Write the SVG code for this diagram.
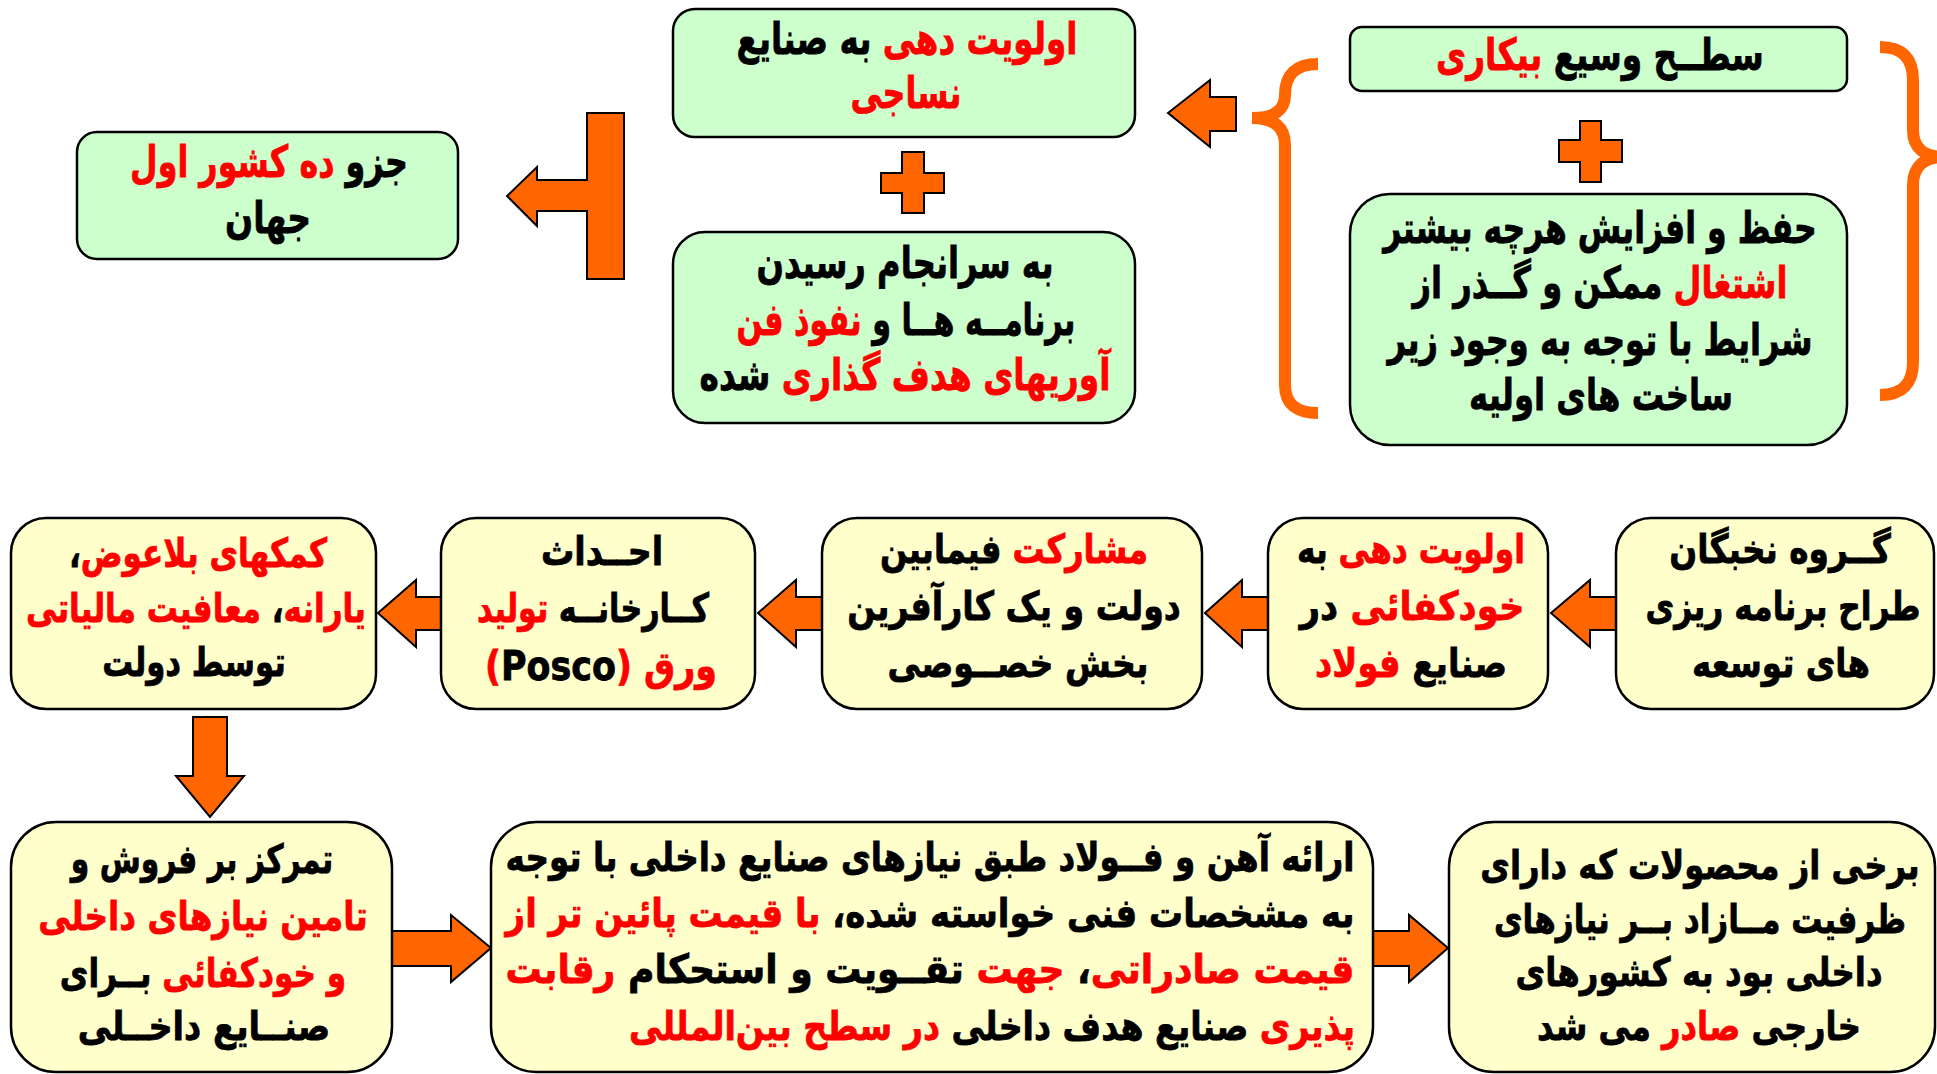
<svg xmlns="http://www.w3.org/2000/svg" width="1937" height="1074" viewBox="0 0 1937 1074">
<style>
.g{fill:#CCFFCC;stroke:#000;stroke-width:2.5}
.y{fill:#FFFFCC;stroke:#000;stroke-width:2.5}
.o{fill:#FF6600;stroke:#000;stroke-width:2}
.br{fill:none;stroke:#FF6600;stroke-width:12;stroke-linecap:butt}
.t{font-family:"DejaVu Sans",sans-serif;font-weight:bold;font-size:40px;fill:#000;stroke:#000;stroke-width:0.8;direction:rtl;text-anchor:middle}
.L{font-size:44px}
.r{fill:#FF0000;stroke:#FF0000}
</style>
<rect width="1937" height="1074" fill="#fff"/>
<g id="connectors">
<polygon class="o" points="624,113 624,279 587,279 587,211 537,211 537,226 507,196 537,167 537,180 587,180 587,113"/>
<polygon class="o" points="1168,113 1210,80 1210,97 1236,97 1236,131 1210,131 1210,147"/>
<path class="br" d="M1318,64 Q1285,64 1285,95 Q1285,118 1252,118 Q1285,118 1285,145 L1285,385 Q1285,413 1318,413"/>
<path class="br" d="M1880,47 Q1913,47 1913,80 L1913,130 Q1913,157 1945,157 Q1913,157 1913,185 L1913,362 Q1913,395 1880,395"/>
<polygon class="o" points="902,152 924,152 924,173 944,173 944,193 924,193 924,213 902,213 902,193 881,193 881,173 902,173"/>
<polygon class="o" points="1580,121 1601,121 1601,140 1622,140 1622,162 1601,162 1601,182 1580,182 1580,162 1559,162 1559,140 1580,140"/>
<polygon class="o" points="378,613 416,580 416,597 441,597 441,630 416,630 416,647"/>
<polygon class="o" points="758,613 796,580 796,597 822,597 822,630 796,630 796,647"/>
<polygon class="o" points="1205,613 1242,580 1242,597 1268,597 1268,630 1242,630 1242,647"/>
<polygon class="o" points="1551,613 1590,580 1590,597 1616,597 1616,630 1590,630 1590,647"/>
<polygon class="o" points="193,717 227,717 227,776 244,776 210,817 176,776 193,776"/>
<polygon class="o" points="392,931 451,931 451,915 491,948 451,982 451,966 392,966"/>
<polygon class="o" points="1373,931 1409,931 1409,915 1448,948 1409,982 1409,966 1373,966"/>
</g>
<g id="n1">
<rect class="g" x="77" y="132" width="381" height="127" rx="20"/>
<text class="t L" transform="translate(269,177) scale(0.735,1)" textLength="378" lengthAdjust="spacingAndGlyphs">جزو <tspan class="r">ده کشور اول</tspan></text>
<text class="t L" transform="translate(268,233) scale(0.735,1)" textLength="117" lengthAdjust="spacingAndGlyphs">جهان</text>
</g>
<g id="n2">
<rect class="g" x="673" y="9" width="462" height="128" rx="22"/>
<text class="t L" transform="translate(907,54) scale(0.735,1)" textLength="464" lengthAdjust="spacingAndGlyphs"><tspan class="r">اولویت دهی</tspan> به صنایع</text>
<text class="t L r" transform="translate(906,108) scale(0.735,1)" textLength="151" lengthAdjust="spacingAndGlyphs">نساجی</text>
</g>
<g id="n3">
<rect class="g" x="673" y="232" width="462" height="191" rx="32"/>
<text class="t L" transform="translate(905,278) scale(0.735,1)" textLength="404" lengthAdjust="spacingAndGlyphs">به سرانجام رسیدن</text>
<text class="t L" transform="translate(906,335) scale(0.735,1)" textLength="461" lengthAdjust="spacingAndGlyphs">برنامــه هــا و <tspan class="r">نفوذ فن</tspan></text>
<text class="t L" transform="translate(905,390) scale(0.735,1)" textLength="559" lengthAdjust="spacingAndGlyphs"><tspan class="r">آوریهای هدف گذاری</tspan> شده</text>
</g>
<g id="n4">
<rect class="g" x="1350" y="27" width="497" height="64" rx="12"/>
<text class="t L" transform="translate(1600,70) scale(0.735,1)" textLength="446" lengthAdjust="spacingAndGlyphs">سطــح وسیع <tspan class="r">بیکاری</tspan></text>
</g>
<g id="n5">
<rect class="g" x="1350" y="194" width="497" height="251" rx="40"/>
<text class="t L" transform="translate(1600,243) scale(0.735,1)" textLength="590" lengthAdjust="spacingAndGlyphs">حفظ و افزایش هرچه بیشتر</text>
<text class="t L" transform="translate(1600,298) scale(0.735,1)" textLength="510" lengthAdjust="spacingAndGlyphs"><tspan class="r">اشتغال</tspan> ممکن و گــذر از</text>
<text class="t L" transform="translate(1600,355) scale(0.735,1)" textLength="578" lengthAdjust="spacingAndGlyphs">شرایط با توجه به وجود زیر</text>
<text class="t L" transform="translate(1601,410) scale(0.735,1)" textLength="359" lengthAdjust="spacingAndGlyphs">ساخت های اولیه</text>
</g>
<g id="nA">
<rect class="y" x="11" y="518" width="365" height="191" rx="35"/>
<text class="t" transform="translate(198,567) scale(0.78,1)" textLength="331" lengthAdjust="spacingAndGlyphs"><tspan class="r">کمکهای بلاعوض</tspan>،</text>
<text class="t" transform="translate(196,622) scale(0.66,1)" textLength="515" lengthAdjust="spacingAndGlyphs"><tspan class="r">یارانه</tspan>، <tspan class="r">معافیت مالیاتی</tspan></text>
<text class="t" transform="translate(194,676) scale(0.82,1)" textLength="224" lengthAdjust="spacingAndGlyphs">توسط دولت</text>
</g>
<g id="nB">
<rect class="y" x="441" y="518" width="314" height="191" rx="35"/>
<text class="t" transform="translate(602,565) scale(0.82,1)" textLength="149" lengthAdjust="spacingAndGlyphs">احــداث</text>
<text class="t" transform="translate(593,622) scale(0.82,1)" textLength="283" lengthAdjust="spacingAndGlyphs">کــارخانــه <tspan class="r">تولید</tspan></text>
<text class="t" transform="translate(601,680) scale(0.82,1)" textLength="283" lengthAdjust="spacingAndGlyphs"><tspan class="r">ورق (</tspan>Posco<tspan class="r">)</tspan></text>
</g>
<g id="nC">
<rect class="y" x="822" y="518" width="380" height="191" rx="35"/>
<text class="t" transform="translate(1014,563) scale(0.82,1)" textLength="327" lengthAdjust="spacingAndGlyphs"><tspan class="r">مشارکت</tspan> فیمابین</text>
<text class="t" transform="translate(1014,620) scale(0.82,1)" textLength="407" lengthAdjust="spacingAndGlyphs">دولت و یک کارآفرین</text>
<text class="t" transform="translate(1018,677) scale(0.82,1)" textLength="318" lengthAdjust="spacingAndGlyphs">بخش خصــوصی</text>
</g>
<g id="nD">
<rect class="y" x="1268" y="518" width="280" height="191" rx="35"/>
<text class="t" transform="translate(1411,563) scale(0.82,1)" textLength="278" lengthAdjust="spacingAndGlyphs"><tspan class="r">اولویت دهی</tspan> به</text>
<text class="t" transform="translate(1412,620) scale(0.82,1)" textLength="274" lengthAdjust="spacingAndGlyphs"><tspan class="r">خودکفائی</tspan> در</text>
<text class="t" transform="translate(1411,677) scale(0.82,1)" textLength="234" lengthAdjust="spacingAndGlyphs">صنایع <tspan class="r">فولاد</tspan></text>
</g>
<g id="nE">
<rect class="y" x="1616" y="518" width="318" height="191" rx="35"/>
<text class="t" transform="translate(1780,563) scale(0.82,1)" textLength="270" lengthAdjust="spacingAndGlyphs">گــروه نخبگان</text>
<text class="t" transform="translate(1783,620) scale(0.76,1)" textLength="362" lengthAdjust="spacingAndGlyphs">طراح برنامه ریزی</text>
<text class="t" transform="translate(1781,677) scale(0.82,1)" textLength="217" lengthAdjust="spacingAndGlyphs">های توسعه</text>
</g>
<g id="nF">
<rect class="y" x="11" y="822" width="381" height="250" rx="45"/>
<text class="t" transform="translate(202,873) scale(0.83,1)" textLength="316" lengthAdjust="spacingAndGlyphs">تمرکز بر فروش و</text>
<text class="t r" transform="translate(203,930) scale(0.8,1)" textLength="412" lengthAdjust="spacingAndGlyphs">تامین نیازهای داخلی</text>
<text class="t" transform="translate(203,987) scale(0.8,1)" textLength="358" lengthAdjust="spacingAndGlyphs"><tspan class="r">و خودکفائی</tspan> بــرای</text>
<text class="t" transform="translate(204,1040) scale(0.83,1)" textLength="304" lengthAdjust="spacingAndGlyphs">صنــایع داخــلی</text>
</g>
<g id="nG">
<rect class="y" x="491" y="822" width="882" height="250" rx="45"/>
<text class="t" transform="translate(930,871) scale(0.8,1)" textLength="1061" lengthAdjust="spacingAndGlyphs">ارائه آهن و فــولاد طبق نیازهای صنایع داخلی با توجه</text>
<text class="t" transform="translate(930,927) scale(0.8,1)" textLength="1061" lengthAdjust="spacingAndGlyphs">به مشخصات فنی خواسته شده، <tspan class="r">با قیمت پائین تر از</tspan></text>
<text class="t" transform="translate(930,983) scale(0.8,1)" textLength="1061" lengthAdjust="spacingAndGlyphs"><tspan class="r">قیمت صادراتی</tspan>، <tspan class="r">جهت</tspan> تقــویت و استحکام <tspan class="r">رقابت</tspan></text>
<text class="t" transform="translate(992,1040) scale(0.78,1)" textLength="931" lengthAdjust="spacingAndGlyphs"><tspan class="r">پذیری</tspan> صنایع هدف داخلی <tspan class="r">در سطح بین‌المللی</tspan></text>
</g>
<g id="nH">
<rect class="y" x="1449" y="822" width="486" height="250" rx="45"/>
<text class="t" transform="translate(1700,879) scale(0.76,1)" textLength="578" lengthAdjust="spacingAndGlyphs">برخی از محصولات که دارای</text>
<text class="t" transform="translate(1700,933) scale(0.76,1)" textLength="542" lengthAdjust="spacingAndGlyphs">ظرفیت مــازاد بــر نیازهای</text>
<text class="t" transform="translate(1699,986) scale(0.76,1)" textLength="483" lengthAdjust="spacingAndGlyphs">داخلی بود به کشورهای</text>
<text class="t" transform="translate(1699,1040) scale(0.76,1)" textLength="426" lengthAdjust="spacingAndGlyphs">خارجی <tspan class="r">صادر</tspan> می شد</text>
</g>
</svg>
